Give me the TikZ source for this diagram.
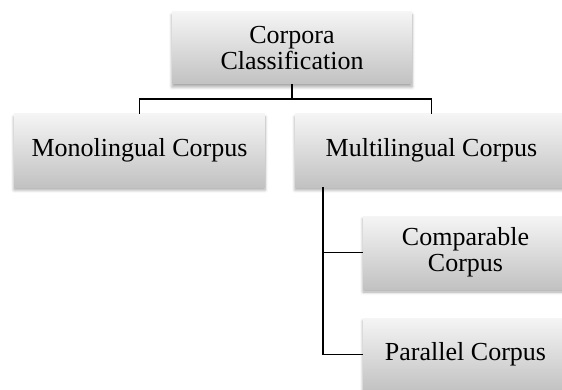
\documentclass[tikz,border=0pt]{standalone}
\usepackage{fontspec}
\setmainfont{Liberation Serif}
\usetikzlibrary{shadows.blur}
\tikzset{
  box/.style={rectangle, inner sep=0pt, align=center,
    top color=black!4, bottom color=black!24,
    blur shadow={shadow xshift=0pt, shadow yshift=-3pt, shadow blur steps=6, shadow opacity=35, shadow blur radius=3pt},
    font=\fontsize{26}{26}\selectfont},
  conn/.style={line width=1.6pt, black}
}
\begin{document}
\begin{tikzpicture}[x=1pt,y=1pt]
\useasboundingbox (0,0) rectangle (562,389);
\clip (0,0) rectangle (562,389);
\node[box, minimum width=240pt, minimum height=72pt] (top) at (292,341) {Corpora\\Classification};
\node[box, minimum width=251pt, minimum height=73pt] (mono) at (139.5,238.5) {Monolingual Corpus};
\node[box, minimum width=273pt, minimum height=73pt] (multi) at (431.5,238.5) {Multilingual Corpus};
\node[box, minimum width=205pt, minimum height=73pt] (comp) at (465.5,136.5) {Comparable\\Corpus};
\node[box, minimum width=205pt, minimum height=73pt] (par) at (465.5,34.5) {Parallel Corpus};
\coordinate (bus) at (0,290);
\coordinate (trunk) at (323,0);
\draw[conn] (top.south) -- (top.south |- bus);
\draw[conn] (mono.north) -- (mono.north |- bus) -- (multi.north |- bus) -- (multi.north);
\draw[conn] (multi.south -| trunk) -- (trunk |- par.west) -- (par.west);
\draw[conn] (trunk |- comp.west) -- (comp.west);
\end{tikzpicture}
\end{document}
